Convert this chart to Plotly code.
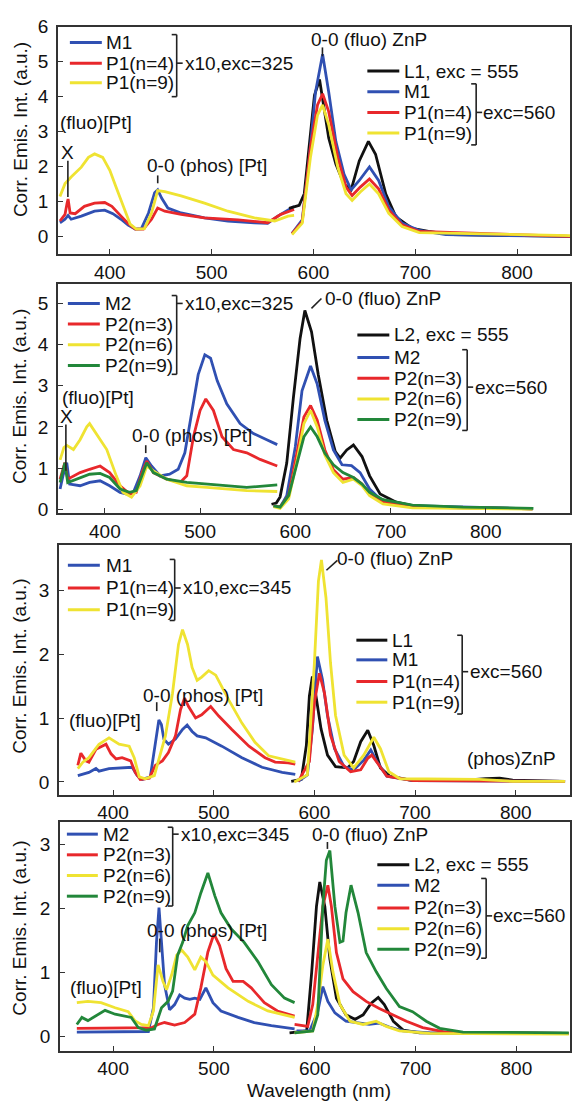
import plotly.graph_objects as go

# ---------------- DATA ----------------
# Panel 1, left segment (x10, exc=325)
P1L_M1_WL = [351, 356, 359, 362, 372, 385, 395, 403, 411, 418, 425, 431, 438, 444, 447, 451, 457, 470, 493, 516, 542, 555, 565, 581]
P1L_M1 = [0.39, 0.49, 0.6, 0.49, 0.58, 0.72, 0.75, 0.65, 0.49, 0.32, 0.21, 0.22, 0.67, 1.25, 1.33, 1.09, 0.81, 0.67, 0.53, 0.44, 0.39, 0.37, 0.58, 0.86]
P1L_P4_WL = [351, 356, 358, 359, 361, 366, 375, 385, 395, 402, 411, 418, 425, 433, 441, 447, 454, 470, 493, 526, 555, 568, 581]
P1L_P4 = [0.44, 0.63, 0.95, 1.07, 0.67, 0.65, 0.86, 0.95, 0.97, 0.86, 0.58, 0.37, 0.21, 0.21, 0.49, 0.81, 0.72, 0.63, 0.53, 0.47, 0.39, 0.63, 0.77]
P1L_P9_WL = [351, 356, 362, 372, 379, 385, 393, 400, 406, 413, 420, 426, 434, 441, 447, 454, 470, 493, 516, 542, 562, 575, 581]
P1L_P9 = [1.14, 1.51, 1.70, 1.98, 2.26, 2.36, 2.26, 1.89, 1.42, 0.86, 0.35, 0.21, 0.22, 0.67, 1.31, 1.28, 1.16, 0.95, 0.72, 0.53, 0.44, 0.58, 0.6]
# Panel 1, right segment
P1R_L1_WL = [576, 586, 591, 596, 601, 606, 610, 615, 622, 630, 637, 645, 654, 661, 671, 681, 697, 713, 736, 852]
P1R_L1 = [0.80, 0.89, 1.22, 2.72, 4.04, 4.49, 3.76, 2.82, 2.07, 1.50, 1.33, 2.16, 2.72, 2.35, 1.22, 0.56, 0.23, 0.14, 0.05, 0.0]
P1R_M1_WL = [579, 589, 596, 602, 609, 615, 622, 630, 637, 645, 655, 664, 674, 687, 704, 730, 852]
P1R_M1 = [0.09, 0.47, 2.25, 4.13, 5.21, 4.13, 2.72, 1.78, 1.33, 1.6, 1.99, 1.6, 0.85, 0.38, 0.17, 0.05, 0.0]
P1R_P4_WL = [579, 589, 597, 604, 609, 615, 624, 632, 638, 646, 655, 664, 674, 687, 704, 852]
P1R_P4 = [0.08, 0.42, 2.54, 3.76, 4.08, 3.57, 2.25, 1.41, 1.17, 1.41, 1.64, 1.36, 0.75, 0.33, 0.14, 0.0]
P1R_P9_WL = [579, 589, 597, 604, 609, 615, 624, 632, 638, 646, 655, 664, 674, 687, 704, 852]
P1R_P9 = [0.05, 0.38, 2.25, 3.47, 3.76, 3.19, 1.97, 1.22, 1.03, 1.27, 1.5, 1.22, 0.66, 0.28, 0.11, 0.02]

# Panel 2, left segment (x10, exc=325)
P2L_M2_WL = [353, 356, 360, 363, 374, 384, 395, 405, 416, 423, 430, 437, 443, 449, 458, 468, 477, 484, 491, 498, 505, 511, 518, 528, 542, 556, 570, 581]
P2L_M2 = [0.49, 0.81, 1.13, 0.61, 0.57, 0.65, 0.69, 0.57, 0.41, 0.37, 0.41, 0.81, 1.25, 1.05, 0.81, 0.85, 0.97, 1.37, 2.32, 3.27, 3.75, 3.67, 3.12, 2.56, 2.08, 1.84, 1.69, 1.57]
P2L_P3_WL = [353, 358, 361, 374, 384, 395, 405, 416, 426, 433, 439, 444, 451, 465, 479, 486, 493, 500, 506, 514, 523, 535, 549, 563, 581]
P2L_P3 = [0.73, 1.13, 0.73, 0.89, 0.97, 1.05, 0.89, 0.57, 0.37, 0.41, 0.89, 1.17, 0.89, 0.73, 0.65, 0.81, 1.76, 2.40, 2.68, 2.40, 1.76, 1.45, 1.37, 1.21, 1.05]
P2L_P6_WL = [353, 357, 360, 367, 374, 381, 384, 391, 402, 412, 419, 428, 437, 444, 451, 465, 486, 507, 528, 549, 581]
P2L_P6 = [1.2, 1.5, 1.55, 1.45, 1.69, 2.0, 2.08, 1.84, 1.45, 0.81, 0.41, 0.29, 0.57, 1.05, 0.93, 0.73, 0.57, 0.53, 0.49, 0.45, 0.43]
P2L_P9_WL = [353, 358, 361, 374, 384, 395, 405, 416, 426, 433, 439, 444, 451, 465, 486, 507, 528, 549, 581]
P2L_P9 = [0.65, 1.13, 0.65, 0.77, 0.85, 0.87, 0.77, 0.49, 0.41, 0.45, 0.85, 1.13, 0.89, 0.73, 0.65, 0.61, 0.57, 0.53, 0.59]
# Panel 2, right segment
P2R_L2_WL = [575, 580, 584, 591, 598, 605, 610, 617, 624, 633, 642, 647, 654, 661, 670, 678, 689, 706, 730, 849]
P2R_L2 = [0.12, 0.15, 0.3, 1.12, 2.72, 4.15, 4.83, 4.31, 3.28, 2.16, 1.40, 1.24, 1.44, 1.56, 1.28, 0.81, 0.37, 0.17, 0.05, 0.01]
P2R_M2_WL = [577, 584, 591, 600, 607, 616, 623, 631, 640, 649, 659, 668, 678, 689, 710, 849]
P2R_M2 = [0.08, 0.05, 0.33, 1.52, 2.88, 3.48, 3.04, 2.16, 1.44, 1.08, 1.06, 0.89, 0.49, 0.25, 0.09, 0.01]
P2R_P3_WL = [577, 584, 593, 602, 609, 616, 623, 631, 640, 650, 661, 670, 678, 692, 723, 849]
P2R_P3 = [0.08, 0.05, 0.33, 1.36, 2.24, 2.52, 2.16, 1.44, 0.96, 0.73, 0.77, 0.61, 0.37, 0.17, 0.05, 0.01]
P2R_P6_WL = [577, 584, 593, 602, 609, 616, 623, 631, 640, 650, 661, 670, 678, 692, 723, 849]
P2R_P6 = [0.06, 0.02, 0.25, 1.2, 2.08, 2.40, 2.0, 1.32, 0.89, 0.65, 0.73, 0.57, 0.33, 0.13, 0.03, 0.0]
P2R_P9_WL = [577, 584, 593, 602, 609, 616, 623, 631, 640, 650, 661, 670, 678, 692, 723, 776, 850]
P2R_P9 = [0.08, 0.05, 0.33, 1.12, 1.76, 2.0, 1.76, 1.36, 1.08, 0.89, 0.77, 0.61, 0.41, 0.23, 0.10, 0.05, 0.02]

# Panel 3, left segment (x10, exc=345)
P3L_M1_WL = [365, 376, 383, 386, 396, 409, 419, 424, 429, 437, 442, 445.5, 448, 450.5, 455, 462, 469, 473.6, 478.5, 483.5, 492, 508, 528, 548, 568, 581]
P3L_M1 = [0.10, 0.15, 0.21, 0.17, 0.21, 0.22, 0.23, 0.10, 0.04, 0.08, 0.62, 0.97, 0.9, 0.67, 0.59, 0.67, 0.82, 0.89, 0.79, 0.72, 0.69, 0.56, 0.38, 0.23, 0.15, 0.12]
P3L_P4_WL = [365, 368, 373, 376, 383, 393, 398, 403, 409, 417.5, 422, 427, 436, 442, 449, 455, 462, 467, 471, 475, 482, 488, 497, 505, 518, 535, 551, 561, 574, 581]
P3L_P4 = [0.26, 0.45, 0.33, 0.31, 0.51, 0.59, 0.44, 0.36, 0.38, 0.33, 0.15, 0.04, 0.06, 0.26, 0.33, 0.46, 0.72, 1.13, 1.31, 1.18, 1.0, 1.05, 1.18, 1.03, 0.82, 0.56, 0.38, 0.31, 0.30, 0.28]
P3L_P9_WL = [365, 370, 376, 386, 396, 406, 416, 421, 426, 432, 441, 445.5, 452, 459, 465, 469, 474, 478.5, 483.5, 488, 495, 502, 515, 528, 541, 554.5, 568, 581]
P3L_P9 = [0.21, 0.31, 0.38, 0.59, 0.69, 0.59, 0.56, 0.38, 0.08, 0.05, 0.10, 0.36, 0.72, 1.38, 2.15, 2.38, 2.15, 1.79, 1.59, 1.64, 1.74, 1.67, 1.28, 0.92, 0.62, 0.41, 0.36, 0.31]
# Panel 3, right segment
P3R_L1_WL = [577, 587, 592, 595, 598, 601.6, 606.6, 613, 621, 633, 639, 646, 653, 659, 665.6, 675, 698, 745, 770, 784, 797, 849]
P3R_L1 = [0.01, 0.04, 0.57, 1.34, 1.65, 1.34, 0.83, 0.42, 0.24, 0.22, 0.32, 0.63, 0.81, 0.57, 0.22, 0.09, 0.02, 0.02, 0.05, 0.06, 0.03, 0.01]
P3R_M1_WL = [584, 593, 598, 603, 608, 613, 620, 629.5, 639, 649, 656, 662, 672, 698, 849]
P3R_M1 = [0.01, 0.11, 0.83, 1.96, 1.6, 1.04, 0.52, 0.24, 0.19, 0.34, 0.50, 0.32, 0.09, 0.02, 0.01]
P3R_P4_WL = [584, 595, 600, 605, 610, 616, 624.6, 636, 646, 653, 657, 664, 672, 698, 849]
P3R_P4 = [0.01, 0.32, 1.24, 1.70, 1.39, 0.73, 0.32, 0.16, 0.19, 0.37, 0.42, 0.27, 0.09, 0.02, 0.01]
P3R_P9_WL = [580, 593, 600, 604, 607, 611.5, 616, 621, 629.5, 639, 649, 659, 665.6, 674, 685, 764, 797, 849]
P3R_P9 = [0.0, 0.11, 1.86, 3.14, 3.47, 2.88, 1.86, 1.04, 0.42, 0.22, 0.42, 0.70, 0.52, 0.16, 0.05, 0.04, 0.01, 0.01]

# Panel 4, left segment (x10, exc=345)
P4L_M2_WL = [364, 392, 425, 435, 440, 443, 445.5, 448, 451, 456, 461, 466, 471, 476, 481, 486, 492, 499, 507, 524, 540, 557, 573, 580]
P4L_M2 = [0.07, 0.07, 0.07, 0.08, 0.45, 1.47, 2.01, 1.47, 0.81, 0.42, 0.50, 0.65, 0.60, 0.58, 0.60, 0.58, 0.76, 0.53, 0.40, 0.30, 0.22, 0.17, 0.13, 0.12]
P4L_P3_WL = [364, 392, 425, 438, 444.6, 451, 461, 471, 481, 487, 494, 500, 505.6, 512, 519, 529, 537, 550, 563, 580]
P4L_P3 = [0.13, 0.13, 0.13, 0.14, 0.19, 0.22, 0.18, 0.22, 0.35, 0.76, 1.32, 1.60, 1.42, 1.06, 0.86, 0.86, 0.76, 0.53, 0.40, 0.32]
P4L_P6_WL = [364, 375, 388, 402, 415, 421.5, 428, 435, 440, 444.6, 449.5, 453, 458, 463, 468, 474, 481, 487, 492, 499, 514, 534, 553.5, 580]
P4L_P6 = [0.53, 0.55, 0.53, 0.45, 0.39, 0.25, 0.19, 0.17, 0.40, 1.12, 0.86, 0.73, 0.96, 1.27, 1.35, 1.24, 1.04, 1.24, 1.17, 0.96, 0.76, 0.55, 0.40, 0.30]
P4L_P9_WL = [364, 369, 375, 382, 392, 402, 412, 418, 425, 433, 441, 448, 454.5, 459, 464, 469, 474, 481, 487, 494, 501, 507, 517, 530, 543.6, 557, 570, 580]
P4L_P9 = [0.19, 0.30, 0.25, 0.32, 0.41, 0.35, 0.32, 0.30, 0.14, 0.10, 0.12, 0.45, 0.55, 0.71, 1.27, 1.47, 1.73, 1.93, 2.24, 2.55, 2.19, 1.93, 1.68, 1.47, 1.17, 0.81, 0.60, 0.53]
# Panel 4, right segment
P4R_L2_WL = [575, 592, 597, 601.7, 605, 610, 615, 621.5, 631, 640, 648, 656, 663, 669, 678, 688, 704, 852]
P4R_L2 = [0.06, 0.09, 1.01, 2.03, 2.41, 2.03, 1.21, 0.60, 0.34, 0.27, 0.34, 0.52, 0.61, 0.50, 0.24, 0.10, 0.06, 0.05]
P4R_M2_WL = [582, 595, 603, 608, 613, 620, 631, 645, 654, 664, 674, 687.5, 714, 852]
P4R_M2 = [0.09, 0.09, 0.39, 0.78, 0.55, 0.37, 0.24, 0.21, 0.19, 0.21, 0.15, 0.09, 0.06, 0.05]
P4R_P3_WL = [580, 593, 598, 603, 608, 613, 616.5, 621.5, 628, 638, 651, 664, 678, 691, 707, 730, 852]
P4R_P3 = [0.19, 0.16, 0.50, 1.26, 2.03, 2.36, 2.03, 1.31, 0.90, 0.70, 0.55, 0.44, 0.34, 0.24, 0.14, 0.07, 0.05]
P4R_P6_WL = [580, 598, 603, 608, 613, 618, 625, 635, 648, 661, 671, 684, 714, 852]
P4R_P6 = [0.06, 0.09, 0.50, 1.11, 1.52, 1.01, 0.50, 0.24, 0.19, 0.24, 0.16, 0.09, 0.05, 0.04]
P4R_P9_WL = [580, 598, 603, 608, 611.5, 615, 620, 625, 628, 631, 636, 643, 651, 661, 671, 684, 697, 710.6, 724, 747, 852]
P4R_P9 = [0.06, 0.09, 0.34, 2.03, 2.75, 2.90, 2.03, 1.47, 1.49, 1.93, 2.36, 1.93, 1.31, 1.01, 0.75, 0.47, 0.39, 0.24, 0.13, 0.07, 0.06]

X_TICKS = [400, 500, 600, 700, 800]
Y_TITLE = "Corr. Emis. Int. (a.u.)"
X_TITLE = "Wavelength (nm)"

# ---------------- STYLE / LAYOUT ----------------
W, H = 572, 1107
BLUE = "#3050b2"
RED = "#e8282b"
YELLOW = "#efe332"
GREEN = "#22873a"
BLACK = "#111111"
FONT = "Liberation Sans, Arial, sans-serif"
FS = 19
LW = 2.8


def fx(x):
    return x / W


def fy(y):
    return 1 - y / H


fig = go.Figure()

series = [
    (1, [(P1L_M1_WL, P1L_M1, BLUE), (P1L_P4_WL, P1L_P4, RED), (P1L_P9_WL, P1L_P9, YELLOW),
         (P1R_L1_WL, P1R_L1, BLACK), (P1R_M1_WL, P1R_M1, BLUE), (P1R_P4_WL, P1R_P4, RED), (P1R_P9_WL, P1R_P9, YELLOW)]),
    (2, [(P2L_M2_WL, P2L_M2, BLUE), (P2L_P3_WL, P2L_P3, RED), (P2L_P6_WL, P2L_P6, YELLOW), (P2L_P9_WL, P2L_P9, GREEN),
         (P2R_L2_WL, P2R_L2, BLACK), (P2R_M2_WL, P2R_M2, BLUE), (P2R_P3_WL, P2R_P3, RED), (P2R_P6_WL, P2R_P6, YELLOW), (P2R_P9_WL, P2R_P9, GREEN)]),
    (3, [(P3L_M1_WL, P3L_M1, BLUE), (P3L_P4_WL, P3L_P4, RED), (P3L_P9_WL, P3L_P9, YELLOW),
         (P3R_L1_WL, P3R_L1, BLACK), (P3R_M1_WL, P3R_M1, BLUE), (P3R_P4_WL, P3R_P4, RED), (P3R_P9_WL, P3R_P9, YELLOW)]),
    (4, [(P4L_M2_WL, P4L_M2, BLUE), (P4L_P3_WL, P4L_P3, RED), (P4L_P6_WL, P4L_P6, YELLOW), (P4L_P9_WL, P4L_P9, GREEN),
         (P4R_L2_WL, P4R_L2, BLACK), (P4R_M2_WL, P4R_M2, BLUE), (P4R_P3_WL, P4R_P3, RED), (P4R_P6_WL, P4R_P6, YELLOW), (P4R_P9_WL, P4R_P9, GREEN)]),
]

for idx, lst in series:
    sfx = "" if idx == 1 else str(idx)
    for wl, val, col in lst:
        fig.add_trace(go.Scatter(x=wl, y=val, mode="lines", xaxis="x" + sfx, yaxis="y" + sfx,
                                 line=dict(color=col, width=LW), showlegend=False, hoverinfo="skip"))

# panel geometry in pixels: (left, right, top, bottom), x range, y range
panels = [
    ((58, 571, 17, 248), [349, 852], [-0.51, 6.0]),
    ((58, 571, 278, 511), [350.7, 888.4], [-0.096, 5.48]),
    ((59, 571, 543, 797), [346.2, 853.9], [-0.2, 3.71]),
    ((60, 571, 825, 1057), [347.2, 853.2], [-0.22, 3.34]),
]

layout = dict(width=W, height=H, margin=dict(l=0, r=0, t=0, b=0),
              paper_bgcolor="white", plot_bgcolor="white",
              font=dict(family=FONT, size=FS, color="#111"))
axcommon = dict(showline=True, mirror=True, linecolor="#333", linewidth=1.6, showgrid=False,
                zeroline=False, ticks="inside", ticklen=5, tickwidth=1.4, tickcolor="#333",
                tickfont=dict(family=FONT, size=FS, color="#111"))
for i, ((l, r, t, b), xr, yr) in enumerate(panels):
    sfx = "" if i == 0 else str(i + 1)
    layout["xaxis" + sfx] = dict(axcommon, domain=[fx(l), fx(r)], range=xr, tickvals=X_TICKS,
                                 anchor="y" + sfx, ticklabelstandoff=0)
    layout["yaxis" + sfx] = dict(axcommon, domain=[fy(b), fy(t)], range=yr, tick0=0, dtick=1,
                                 anchor="x" + sfx, ticklabelstandoff=4)
fig.update_layout(**layout)

ann = []
shp = []


def txt(x, y, s, anchor="left", angle=0):
    ann.append(dict(x=fx(x), y=fy(y), xref="paper", yref="paper", text=s, showarrow=False,
                    xanchor=anchor, yanchor="middle", textangle=angle,
                    font=dict(family=FONT, size=FS, color="#111")))


def seg(x0, y0, x1, y1, col="#222", w=1.6):
    shp.append(dict(type="line", xref="paper", yref="paper", x0=fx(x0), y0=fy(y0), x1=fx(x1), y1=fy(y1),
                    line=dict(color=col, width=w)))


def legend(xl0, xl1, xt, rows):
    for y, col, label in rows:
        seg(xl0, y, xl1, y, col, 3)
        txt(xt, y, label)


def bracket(x, y0, y1, ym, label, xt):
    seg(x - 5, y0, x, y0)
    seg(x, y0, x, y1)
    seg(x - 5, y1, x, y1)
    seg(x, ym, x + 6, ym)
    txt(xt, ym, label)


# ---- Panel 1 ----
legend(70, 102, 104, [(33, BLUE, "M1"), (54, RED, "P1(n=4)"), (74, YELLOW, "P1(n=9)")])
bracket(177, 25, 88, 54, "x10,exc=325", 183)
legend(368, 400, 403, [(62, BLACK, "L1, exc = 555"), (83, BLUE, "M1"), (104, RED, "P1(n=4)"), (125, YELLOW, "P1(n=9)")])
bracket(477, 75, 137, 104, "exc=560", 482)
txt(58, 114, "(fluo)[Pt]")
txt(68, 145, "X", "center")
seg(68, 153, 68, 190)
txt(207, 158, "0-0 (phos) [Pt]", "center")
seg(158, 168, 158, 176)
txt(370, 30, "0-0 (fluo) ZnP", "center")
seg(323, 38, 323, 47)

# ---- Panel 2 ----
legend(68, 100, 103, [(298, BLUE, "M2"), (319, RED, "P2(n=3)"), (340, YELLOW, "P2(n=6)"), (361, GREEN, "P2(n=9)")])
bracket(177, 290, 370, 298, "x10,exc=325", 183)
legend(358, 390, 393, [(330, BLACK, "L2, exc = 555"), (353, BLUE, "M2"), (374, RED, "P2(n=3)"), (395, YELLOW, "P2(n=6)"), (416, GREEN, "P2(n=9)")])
bracket(468, 345, 427, 383, "exc=560", 474)
txt(60, 394, "(fluo)[Pt]")
txt(67, 413, "X", "center")
seg(66, 421, 66, 468)
txt(192, 432, "0-0 (phos) [Pt]", "center")
seg(146, 442, 146, 450)
txt(384, 293, "0-0 (fluo) ZnP", "center")
seg(312, 303, 322, 293)

# ---- Panel 3 ----
legend(68, 100, 104, [(564, BLUE, "M1"), (587, RED, "P1(n=4)"), (609, YELLOW, "P1(n=9)")])
bracket(175, 558, 620, 587, "x10,exc=345", 181)
legend(357, 388, 391, [(640, BLACK, "L1"), (660, BLUE, "M1"), (682, RED, "P1(n=4)"), (703, YELLOW, "P1(n=9)")])
bracket(463, 635, 715, 672, "exc=560", 469)
txt(105, 722, "(fluo)[Pt]", "center")
txt(203, 696, "0-0 (phos) [Pt]", "center")
seg(157, 703, 157, 712)
txt(396, 557, "0-0 (fluo) ZnP", "center")
seg(327, 569, 338, 559)
txt(512, 760, "(phos)ZnP", "center")

# ---- Panel 4 ----
legend(67, 98, 101, [(837, BLUE, "M2"), (858, RED, "P2(n=3)"), (879, YELLOW, "P2(n=6)"), (900, GREEN, "P2(n=9)")])
bracket(173, 830, 910, 837, "x10,exc=345", 179)
legend(378, 410, 413, [(868, BLACK, "L2, exc = 555"), (889, BLUE, "M2"), (912, RED, "P2(n=3)"), (933, YELLOW, "P2(n=6)"), (954, GREEN, "P2(n=9)")])
bracket(487, 882, 963, 920, "exc=560", 492)
txt(106, 993, "(fluo)[Pt]", "center")
txt(207, 935, "0-0 (phos) [Pt]", "center")
seg(160, 943, 160, 957)
txt(371, 837, "0-0 (fluo) ZnP", "center")
seg(328, 845, 328, 852)

# axis titles
for yc in (121, 392, 666, 932):
    txt(20, yc, Y_TITLE, "center", -90)
txt(320, 1097, X_TITLE, "center")

fig.update_layout(annotations=ann, shapes=shp)
fig.write_html("out.html")
